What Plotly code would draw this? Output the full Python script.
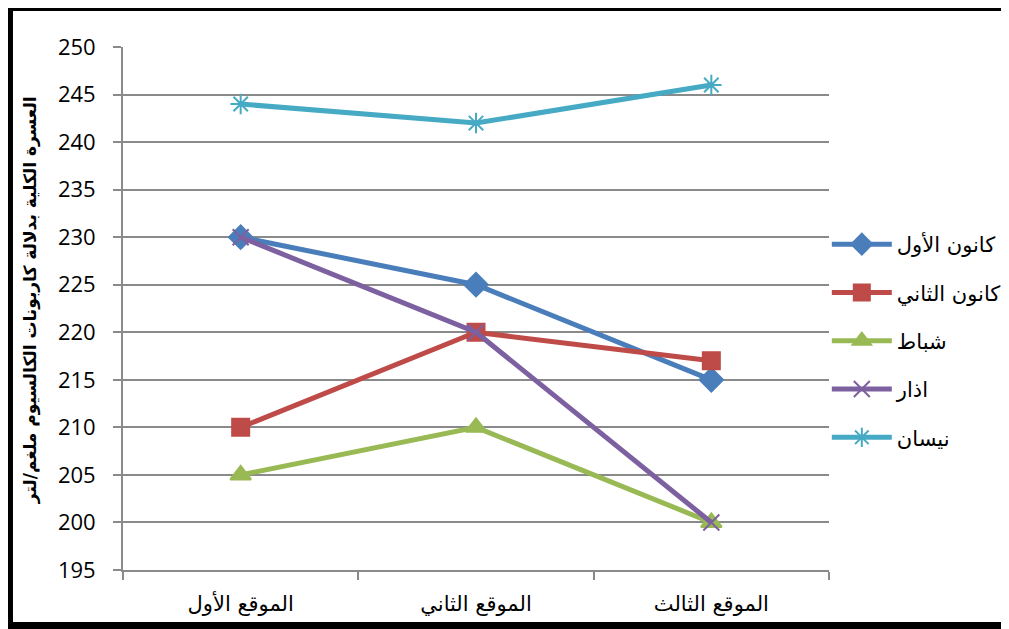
import plotly.graph_objects as go

sites = ["الموقع الأول", "الموقع الثاني", "الموقع الثالث"]
series_names = ["كانون الأول", "كانون الثاني", "شباط", "اذار", "نيسان"]
dec = [230, 225, 215]
jan = [210, 220, 217]
feb = [205, 210, 200]
mar = [230, 220, 200]
apr = [244, 242, 246]
y_ticks = list(range(195, 251, 5))
y_title = "العسرة الكلية بدلالة كاربونات الكالسيوم ملغم/لتر"

values = [dec, jan, feb, mar, apr]
colors = ["#4A7EBB", "#BE4B48", "#98B954", "#7D60A0", "#46AAC5"]
symbols = ["diamond", "square", "triangle-up", "x-thin-open", "asterisk-open"]
msizes = [18, 17, 18, 16, 17]

fig = go.Figure()
for i, (name, vals) in enumerate(zip(series_names, values)):
    fig.add_trace(go.Scatter(
        x=sites, y=vals, name=name, mode="lines+markers",
        legendgroup=str(i),
        line=dict(color=colors[i], width=5),
        marker=dict(symbol=symbols[i], size=msizes[i], color=colors[i],
                    line=dict(color=colors[i], width=2)),
    ))

grid = "#8A8A8A"
fig.update_layout(
    width=1001, height=621,
    margin=dict(l=115, r=180, t=39, b=59, autoexpand=False),
    paper_bgcolor="white", plot_bgcolor="white",
    font=dict(family="DejaVu Sans, Liberation Sans", color="black"),
    showlegend=True,
    legend=dict(xref="container", yref="container",
                x=0.818, xanchor="left", y=0.6522, yanchor="top",
                font=dict(size=21, family="DejaVu Sans"),
                tracegroupgap=18, traceorder="grouped", itemwidth=60,
                bgcolor="rgba(0,0,0,0)"),
    xaxis=dict(type="category", tickson="boundaries", showgrid=False,
               range=[-0.5, 2.5],
               showline=True, linecolor=grid, linewidth=1.8,
               ticks="outside", ticklen=8, tickcolor=grid, tickwidth=1.8,
               ticklabelstandoff=14,
               tickfont=dict(size=21, family="DejaVu Sans")),
    yaxis=dict(range=[195, 250], tickvals=y_ticks, showgrid=True,
               gridcolor=grid, gridwidth=1.8, zeroline=False,
               showline=True, linecolor=grid, linewidth=1.8,
               ticks="outside", ticklen=8, tickcolor=grid, tickwidth=1.8,
               ticklabelstandoff=13,
               tickfont=dict(size=22, family="Open Sans, Liberation Sans")),
)

fig.add_annotation(text="<b>" + y_title + "</b>", xref="paper", yref="paper",
                   x=-0.1317, y=0.516, xanchor="center", yanchor="middle",
                   textangle=-90, showarrow=False,
                   font=dict(size=17, family="DejaVu Sans"))

fig.add_shape(type="rect", xref="paper", yref="paper",
              x0=-0.1615, x1=1.28, y0=-0.1071, y1=1.0765,
              line=dict(color="black", width=8), layer="above")

fig.write_html("out.html")
